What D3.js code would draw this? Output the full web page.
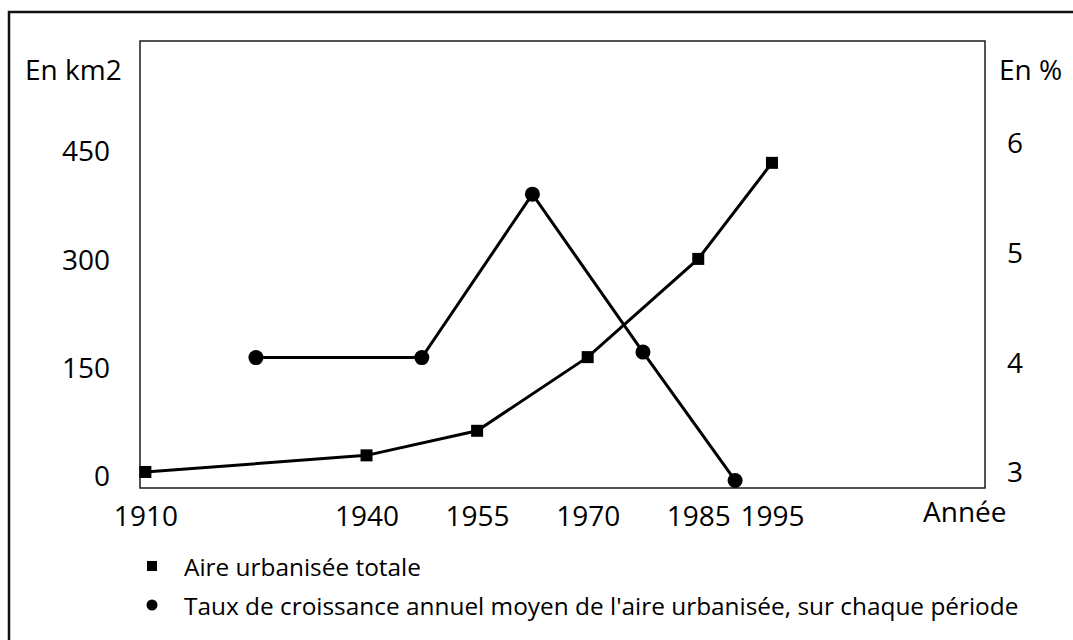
<!DOCTYPE html>
<html><head><meta charset="utf-8">
<script src="https://cdn.jsdelivr.net/npm/d3@7"></script>
<style>
body{margin:0;background:#fff;}
svg text{font-family:"Open Sans",sans-serif;fill:#000;}
</style></head><body>
<svg id="c" width="1073" height="640"></svg>
<script>
// ---- data ----
const areaYears = [1910, 1940, 1955, 1970, 1985, 1995];
const areaValues = [7, 30, 64, 166, 302, 435];           // km2
const rateYears = [1925, 1947.5, 1962.5, 1977.5, 1990];   // middle of each period
const rateValues = [4.05, 4.05, 5.54, 4.10, 2.93];       // %
const xTickLabels = [1910, 1940, 1955, 1970, 1985, 1995];
const leftTicks = [0, 150, 300, 450];
const rightTicks = [3, 4, 5, 6];
const legendLabels = ["Aire urbanisée totale",
  "Taux de croissance annuel moyen de l'aire urbanisée, sur chaque période"];

// ---- layout ----
const svg = d3.select("#c");
const box = {l: 140, t: 41, r: 985, b: 488};

const x = d3.scaleLinear().domain([1909.27, 2023.9]).range([box.l, box.r]);
const yL = d3.scaleLinear().domain([-15.2, 603.7]).range([box.b, box.t]);
const yR = d3.scaleLinear().domain([2.861, 6.936]).range([box.b, box.t]);

// outer frame
svg.append("path").attr("d", "M9,640V12H1073")
  .attr("fill", "none").attr("stroke", "#111").attr("stroke-width", 2.5);

// plot box
svg.append("rect").attr("x", box.l).attr("y", box.t)
  .attr("width", box.r - box.l).attr("height", box.b - box.t)
  .attr("fill", "none").attr("stroke", "#1a1a1a").attr("stroke-width", 1.5);

function styleAxis(g) {
  g.select(".domain").remove();
  g.selectAll("text").attr("font-size", 28).attr("font-family", "Open Sans").attr("fill", "#000");
}

svg.append("g").attr("transform", `translate(${box.l},0)`)
  .call(d3.axisLeft(yL).tickValues(leftTicks).tickFormat(d3.format("d")).tickSize(0).tickPadding(30))
  .call(styleAxis);

svg.append("g").attr("transform", `translate(${box.r},0)`)
  .call(d3.axisRight(yR).tickValues(rightTicks).tickFormat(d3.format("d")).tickSize(0).tickPadding(22))
  .call(styleAxis);

svg.append("g").attr("transform", `translate(0,${box.b})`)
  .call(d3.axisBottom(x).tickValues(xTickLabels).tickFormat(d3.format("d")).tickSize(0).tickPadding(18))
  .call(styleAxis);

// axis titles
svg.append("text").attr("x", 25).attr("y", 80).attr("font-size", 28).text("En km2");
svg.append("text").attr("x", 999).attr("y", 80).attr("font-size", 28).text("En %");
svg.append("text").attr("x", 923).attr("y", 522).attr("font-size", 28).text("Année");

// series
const area = areaYears.map((d, i) => ({x: d, y: areaValues[i]}));
const rate = rateYears.map((d, i) => ({x: d, y: rateValues[i]}));

svg.append("path").datum(area)
  .attr("d", d3.line().x(d => x(d.x)).y(d => yL(d.y)))
  .attr("fill", "none").attr("stroke", "#000").attr("stroke-width", 3);
svg.append("path").datum(rate)
  .attr("d", d3.line().x(d => x(d.x)).y(d => yR(d.y)))
  .attr("fill", "none").attr("stroke", "#000").attr("stroke-width", 3);

const sq = 12;
svg.selectAll("rect.sq").data(area).enter().append("rect").attr("class", "sq")
  .attr("x", d => x(d.x) - sq / 2).attr("y", d => yL(d.y) - sq / 2)
  .attr("width", sq).attr("height", sq).attr("fill", "#000");
svg.selectAll("circle.pt").data(rate).enter().append("circle").attr("class", "pt")
  .attr("cx", d => x(d.x)).attr("cy", d => yR(d.y)).attr("r", 7.5).attr("fill", "#000");

// legend
const lg = svg.append("g");
lg.append("rect").attr("x", 147).attr("y", 561).attr("width", 10).attr("height", 10).attr("fill", "#000");
lg.append("circle").attr("cx", 152).attr("cy", 605).attr("r", 5.5).attr("fill", "#000");
lg.selectAll("text").data(legendLabels).enter().append("text")
  .attr("x", 184).attr("y", (d, i) => 576 + i * 39)
  .attr("font-size", 24.4).text(d => d);
</script>
</body></html>
